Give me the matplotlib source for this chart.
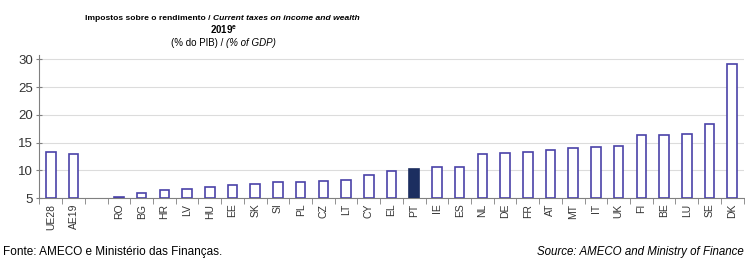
import matplotlib.pyplot as plt
import numpy as np

plt.rcParams['font.family'] = ['Liberation Sans Narrow', 'Liberation Sans', 'DejaVu Sans']

labels = ['UE28', 'AE19', '', 'RO', 'BG', 'HR', 'LV', 'HU', 'EE', 'SK', 'SI', 'PL', 'CZ',
          'LT', 'CY', 'EL', 'PT', 'IE', 'ES', 'NL', 'DE', 'FR', 'AT', 'MT', 'IT', 'UK',
          'FI', 'BE', 'LU', 'SE', 'DK']
values = [13.3, 13.0, np.nan, 5.2, 5.9, 6.4, 6.7, 7.0, 7.4, 7.5, 7.9, 7.9, 8.0,
          8.3, 9.2, 9.9, 10.3, 10.6, 10.6, 12.9, 13.1, 13.4, 13.6, 14.0, 14.2, 14.4,
          16.3, 16.3, 16.5, 18.3, 29.1]
highlight = 'PT'

edge = '#4a42a8'
fig = plt.figure(figsize=(7.45, 2.58), dpi=100)
ax = fig.add_axes([0.053, 0.232, 0.945, 0.555])

x = np.arange(len(labels))
for i, (lab, v) in enumerate(zip(labels, values)):
    if np.isnan(v):
        continue
    if lab == highlight:
        ax.bar(i, v - 5, bottom=5, width=0.42, color='#1c2e60', edgecolor='#1c2e60', lw=1.2, zorder=3)
    else:
        ax.bar(i, v - 5, bottom=5, width=0.42, color='white', edgecolor=edge, lw=1.2, zorder=3)

ax.set_xlim(-0.5, len(labels) - 0.5)
ax.set_ylim(5, 30.8)
ax.set_yticks([5, 10, 15, 20, 25, 30])
ax.tick_params(axis='y', direction='inout', length=5, labelsize=9.5, colors='#808080', labelcolor='#333333', pad=2)
ax.set_xticks(x)
ax.set_xticklabels(labels, rotation=90, fontsize=7.5, color='#333333')
ax.set_xticks(np.arange(len(labels) + 1) - 0.5, minor=True)
ax.tick_params(axis='x', which='major', length=0, pad=4)
ax.tick_params(axis='x', which='minor', length=4, color='#808080')
ax.grid(axis='y', color='#dcdcdc', lw=0.8, zorder=0)
for s in ['top', 'right']:
    ax.spines[s].set_visible(False)
for s in ['left', 'bottom']:
    ax.spines[s].set_color('#808080')

cx = 0.286
fig.text(cx, 0.93, 'Impostos sobre o rendimento / ', fontsize=6.1, fontweight='bold', ha='right', va='center')
fig.text(cx, 0.93, 'Current taxes on income and wealth', fontsize=6.1, fontweight='bold', style='italic', ha='left', va='center')
fig.text(0.300, 0.883, r'2019$^{\mathregular{e}}$', fontsize=7, fontweight='bold', ha='center', va='center')
fig.text(0.303, 0.832, '(% do PIB) / ', fontsize=7, ha='right', va='center')
fig.text(0.303, 0.832, '(% of GDP)', fontsize=7, style='italic', ha='left', va='center')

fig.text(0.004, 0.0, 'Fonte: AMECO e Ministério das Finanças.', fontsize=8.5, ha='left', va='bottom')
fig.text(0.998, 0.0, 'Source: AMECO and Ministry of Finance', fontsize=8.3, style='italic', ha='right', va='bottom')

fig.savefig('out.png', dpi=100)
